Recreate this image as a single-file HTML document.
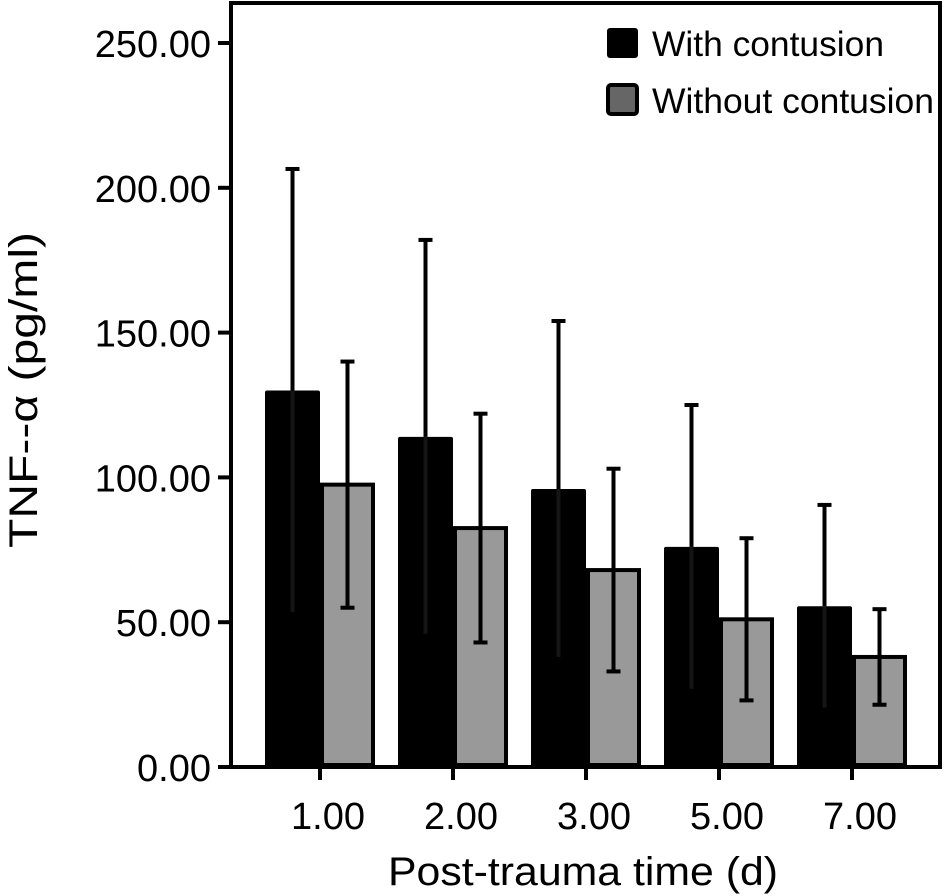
<!DOCTYPE html>
<html><head><meta charset="utf-8"><style>
body{margin:0;background:#fff;}
svg{display:block;font-family:"Liberation Sans",Arial,sans-serif;}
</style></head><body>
<svg id="c" width="945" height="896" viewBox="0 0 945 896">
<rect x="231" y="3" width="709" height="764" fill="none" stroke="#000" stroke-width="4"/>
<text transform="translate(37,390) rotate(-90)" text-anchor="middle" font-size="40" textLength="316" lengthAdjust="spacingAndGlyphs">TNF-‑α (pg/ml)</text>
<text x="583" y="885" text-anchor="middle" font-size="40" textLength="390" lengthAdjust="spacingAndGlyphs">Post-trauma time (d)</text>
<g>
<rect x="607" y="28" width="31" height="30" rx="3" fill="#000"/>
<text x="652" y="56" font-size="35" textLength="232" lengthAdjust="spacingAndGlyphs">With contusion</text>
<rect x="608" y="85" width="29" height="29" rx="3" fill="#666" stroke="#000" stroke-width="4"/>
<text x="652" y="113" font-size="35" textLength="282" lengthAdjust="spacingAndGlyphs">Without contusion</text>
</g>
<g id="g"></g>
</svg>
<script>
const categories=["1.00","2.00","3.00","5.00","7.00"];
const withMean=[130,114,96,76,55.5];
const withSD=[76.5,68,58,49,35];
const withoutMean=[97.5,82.5,68,51,38];
const withoutSD=[42.5,39.5,35,28,16.5];
const yTicks=[0,50,100,150,200,250];
const NS="http://www.w3.org/2000/svg";
const g=document.getElementById('g');
const y0=767,yTop=43;
function y(v){return y0-(v/250)*(y0-yTop);}
function gx(i){return 320+i*133;}
function mk(t,a){const e=document.createElementNS(NS,t);for(const k in a)e.setAttribute(k,a[k]);g.appendChild(e);return e;}
yTicks.forEach(v=>{
 const l=mk('line',{x1:218,x2:231,y1:y(v),y2:y(v),stroke:'#000','stroke-width':4});
 
 
 const t=mk('text',{x:211,y:y(v)+14,'text-anchor':'end','font-size':38});
 t.textContent=v.toFixed(2);
 
 
});
categories.forEach((c,i)=>{
 const cx=gx(i);
 const l=mk('line',{x1:cx,x2:cx,y1:767,y2:780,stroke:'#000','stroke-width':4});
 
 
 const t=mk('text',{x:cx+8,y:829,'text-anchor':'middle','font-size':38});
 t.textContent=c;
 
 
 const b=mk('rect',{x:cx-55,y:y(withMean[i]),width:55,height:y0-y(withMean[i]),fill:'#000',rx:2});
 
 
 const bx=cx-27.5;
 const e1=mk('line',{x1:bx,x2:bx,y1:y(withMean[i]+withSD[i]),y2:y(withMean[i]),stroke:'#000','stroke-width':4});
 
 
 const c1=mk('line',{x1:bx-7,x2:bx+7,y1:y(withMean[i]+withSD[i]),y2:y(withMean[i]+withSD[i]),stroke:'#000','stroke-width':4});
 
 
 const e1b=mk('line',{x1:bx,x2:bx,y1:y(withMean[i]),y2:y(withMean[i]-withSD[i]),stroke:'#151515','stroke-width':4});
 
 
 const r=mk('rect',{x:cx+2,y:y(withoutMean[i]),width:51,height:y0-y(withoutMean[i])-2,fill:'#999',stroke:'#000','stroke-width':4});
 
 
 const rx=cx+27.5;
 const e2=mk('line',{x1:rx,x2:rx,y1:y(withoutMean[i]+withoutSD[i]),y2:y(withoutMean[i]-withoutSD[i]),stroke:'#000','stroke-width':4});
 
 
 [withoutMean[i]+withoutSD[i],withoutMean[i]-withoutSD[i]].forEach(v=>{
  const cp=mk('line',{x1:rx-7,x2:rx+7,y1:y(v),y2:y(v),stroke:'#000','stroke-width':4});
  
  
 });
});
</script>
</body></html>
